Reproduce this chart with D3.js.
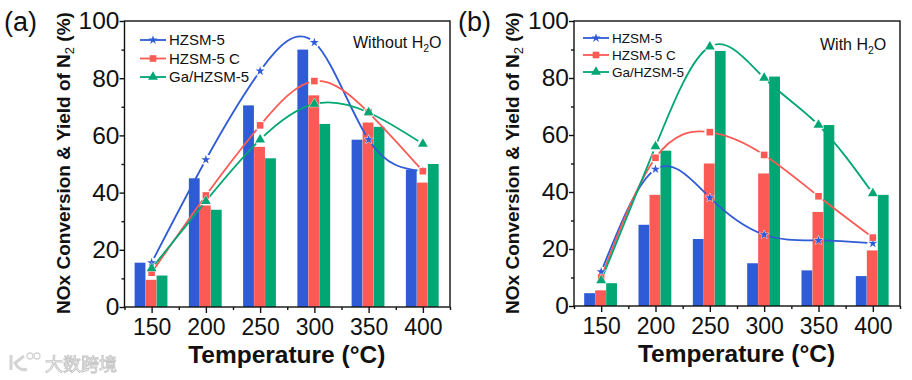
<!DOCTYPE html>
<html>
<head>
<meta charset="utf-8">
<script src="https://cdn.jsdelivr.net/npm/d3@7"></script>
<style>
  html, body { margin: 0; padding: 0; background: #fff; }
  svg text { font-family: "Liberation Sans", Arial, sans-serif; fill: #111; }
</style>
</head>
<body>
<div id="chart"></div>
<script>
const temps = [150, 200, 250, 300, 350, 400];
const seriesNames = ["HZSM-5", "HZSM-5 C", "Ga/HZSM-5"];
const seriesColors = ["#2f5bd6", "#fb5a55", "#00a674"];
const yTicks = [0, 20, 40, 60, 80, 100];

// panel a, without water
const barsA = [
  [15.5, 45, 70.5, 90, 58.5, 48],
  [9.5, 35.5, 56, 74, 64.5, 43.5],
  [11, 34, 52, 64, 63, 50]
];
const linesA = [
  [15.5, 51.5, 82.5, 92.5, 58.5, 47.5],
  [12, 39, 63.5, 79, 68, 47.5],
  [13.5, 37, 58.5, 71, 68, 57]
];

// panel b, with water
const barsB = [
  [4.5, 28.5, 23.5, 15, 12.5, 10.5],
  [5.5, 39, 50, 46.5, 33, 19.5],
  [8, 54.5, 89.5, 80.5, 63.5, 39]
];
const linesB = [
  [12, 48, 38, 25, 23, 22],
  [10, 52, 61, 53, 38.5, 24],
  [9, 56, 91, 80, 63.5, 39.5]
];

const svg = d3.select("#chart").append("svg")
  .attr("width", 912)
  .attr("height", 380);

const defs = svg.append("defs");
defs.append("filter").attr("id", "soft")
  .append("feGaussianBlur").attr("stdDeviation", 0.6);

const symbols = [d3.symbolStar, d3.symbolSquare, d3.symbolTriangle];
const symbolSizes = [26, 44, 42];

function marker(g, i, x, y, halo) {
  g.append("path")
    .attr("d", d3.symbol().type(symbols[i]).size(symbolSizes[i])())
    .attr("transform", "translate(" + x + "," + y + ")")
    .attr("fill", seriesColors[i])
    .attr("stroke", halo ? "#fff" : "none")
    .attr("stroke-width", halo ? 0.8 : 0)
    .attr("paint-order", "stroke");
}

function drawPanel(opts) {
  const x = d3.scaleLinear().domain([125, 425]).range([opts.left, opts.right]);
  const y = d3.scaleLinear().domain([0, 100]).range([opts.bottom, 21]);
  const g = svg.append("g");

  // bars
  const barW = 10.8;
  opts.bars.forEach((vals, i) => {
    g.append("g").selectAll("rect")
      .data(vals)
      .join("rect")
      .attr("x", (d, k) => x(temps[k]) + (i - 1) * 11 - barW / 2 - 0.6)
      .attr("y", d => y(d))
      .attr("width", barW)
      .attr("height", d => y(0) - y(d))
      .attr("fill", seriesColors[i]);
  });

  // smooth lines, masked so they stop short of their own markers
  const line = d3.line()
    .x((d, k) => x(temps[k]))
    .y(d => y(d))
    .curve(d3.curveNatural);

  opts.lines.forEach((vals, i) => {
    const maskId = "gap-" + opts.id + "-" + i;
    const mask = defs.append("mask")
      .attr("id", maskId)
      .attr("maskUnits", "userSpaceOnUse")
      .attr("x", 0).attr("y", 0)
      .attr("width", 912).attr("height", 380);
    mask.append("rect").attr("width", 912).attr("height", 380).attr("fill", "#fff");
    vals.forEach((v, k) => {
      mask.append("circle")
        .attr("cx", x(temps[k]))
        .attr("cy", y(v))
        .attr("r", 5.5)
        .attr("fill", "#000");
    });
    g.append("path")
      .attr("d", line(vals))
      .attr("fill", "none")
      .attr("stroke", seriesColors[i])
      .attr("stroke-width", 1.8)
      .attr("mask", "url(#" + maskId + ")");
  });
  opts.lines.forEach((vals, i) => {
    vals.forEach((v, k) => marker(g, i, x(temps[k]), y(v), true));
  });

  // frame
  g.append("rect")
    .attr("x", opts.left)
    .attr("y", 21)
    .attr("width", opts.right - opts.left)
    .attr("height", opts.bottom - 21)
    .attr("fill", "none")
    .attr("stroke", "#111")
    .attr("stroke-width", 1.4);

  // axes
  const xAxis = d3.axisBottom(x)
    .tickValues(temps)
    .tickSize(6)
    .tickPadding(6)
    .tickFormat(d3.format("d"));
  const gx = g.append("g")
    .attr("transform", "translate(0," + opts.bottom + ")")
    .call(xAxis);
  gx.select(".domain").remove();
  gx.selectAll("line").attr("stroke", "#111").attr("stroke-width", 1.4);
  gx.selectAll("text").style("font-size", "23px").attr("fill", "#111");

  const xMinor = d3.axisBottom(x)
    .tickValues([125, 175, 225, 275, 325, 375, 425])
    .tickSize(3)
    .tickFormat("");
  const gxm = g.append("g")
    .attr("transform", "translate(0," + opts.bottom + ")")
    .call(xMinor);
  gxm.select(".domain").remove();
  gxm.selectAll("line").attr("stroke", "#111").attr("stroke-width", 1.4);

  const yAxis = d3.axisLeft(y)
    .tickValues(yTicks)
    .tickSize(5)
    .tickPadding(0)
    .tickFormat(d3.format("d"));
  const gy = g.append("g")
    .attr("transform", "translate(" + opts.left + ",0)")
    .call(yAxis);
  gy.select(".domain").remove();
  gy.selectAll("line").attr("stroke", "#111").attr("stroke-width", 1.4);
  gy.selectAll("text").style("font-size", "24.5px").attr("fill", "#111");

  const yMinor = d3.axisLeft(y)
    .tickValues([10, 30, 50, 70, 90])
    .tickSize(3)
    .tickFormat("");
  const gym = g.append("g")
    .attr("transform", "translate(" + opts.left + ",0)")
    .call(yMinor);
  gym.select(".domain").remove();
  gym.selectAll("line").attr("stroke", "#111").attr("stroke-width", 1.4);

  // titles
  g.append("text")
    .attr("x", (opts.left + opts.right) / 2 - 0.5)
    .attr("y", opts.bottom + 56)
    .attr("text-anchor", "middle")
    .style("font-size", "24.5px")
    .style("font-weight", "bold")
    .text("Temperature (°C)");

  const yt = g.append("text")
    .attr("transform", "translate(" + (opts.left - 55) + ",163) rotate(-90)")
    .attr("text-anchor", "middle")
    .style("font-size", "19px")
    .style("font-weight", "bold");
  yt.append("tspan").text("NOx Conversion & Yield of N");
  yt.append("tspan").attr("dy", 4).style("font-size", "13px").style("font-weight", "normal").text("2");
  yt.append("tspan").attr("dy", -4).text(" (%)");

  g.append("text")
    .attr("x", opts.labelX)
    .attr("y", 31)
    .style("font-size", "27px")
    .text(opts.label);

  // note in the corner
  const note = g.append("text")
    .attr("x", opts.noteX)
    .attr("y", opts.noteY)
    .style("font-size", "16px");
  note.append("tspan").text(opts.note);
  note.append("tspan").attr("dy", 4).style("font-size", "10.5px").text("2");
  note.append("tspan").attr("dy", -4).text("O");

  // legend
  seriesNames.forEach((name, i) => {
    const ly = opts.legendY + i * opts.legendStep;
    g.append("line")
      .attr("x1", opts.legendX)
      .attr("x2", opts.legendX + 26)
      .attr("y1", ly)
      .attr("y2", ly)
      .attr("stroke", seriesColors[i])
      .attr("stroke-width", 1.8);
    marker(g, i, opts.legendX + 13, ly, false);
    g.append("text")
      .attr("x", opts.legendX + 29)
      .attr("y", ly + 5)
      .style("font-size", opts.legendFont + "px")
      .text(name);
  });
}

drawPanel({
  id: "a", left: 124.5, right: 450, bottom: 307,
  bars: barsA, lines: linesA, label: "(a)", labelX: 4,
  note: "Without H", noteX: 353, noteY: 48,
  legendX: 140, legendY: 40, legendStep: 18.5, legendFont: 15
});

drawPanel({
  id: "b", left: 574, right: 900, bottom: 306,
  bars: barsB, lines: linesB, label: "(b)", labelX: 458,
  note: "With H", noteX: 820, noteY: 50,
  legendX: 583, legendY: 38, legendStep: 17, legendFont: 13.5
});

// watermark bottom left
const mark = svg.append("g").attr("filter", "url(#soft)");
mark.append("text")
  .attr("x", 45)
  .attr("y", 371)
  .style("font-family", '"Noto Sans CJK SC", sans-serif')
  .style("font-size", "18px")
  .style("fill", "#fff")
  .style("stroke", "#c4c4c4")
  .style("stroke-width", 0.9)
  .text("大数跨境");
mark.append("path")
  .attr("d", "M11 355 L11 370 M24 356 L15 363 Q20 372 27 369")
  .attr("fill", "none")
  .attr("stroke", "#d4d4d4")
  .attr("stroke-width", 3);
[30, 37].forEach(cx => {
  mark.append("circle")
    .attr("cx", cx)
    .attr("cy", 356)
    .attr("r", 3)
    .attr("fill", "none")
    .attr("stroke", "#d4d4d4")
    .attr("stroke-width", 1.3);
});
</script>
</body>
</html>
